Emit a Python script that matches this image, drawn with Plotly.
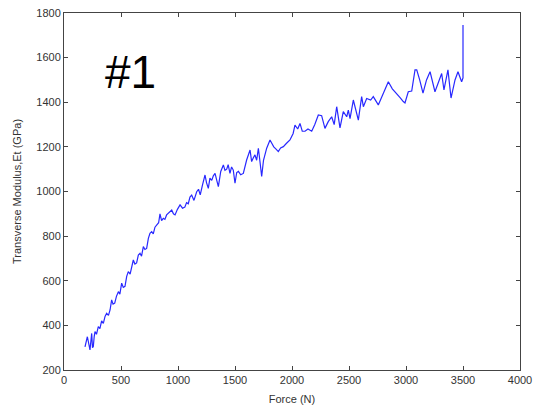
import plotly.graph_objects as go

force = [184, 205, 228, 235, 243, 250, 257, 265, 272, 285, 301, 315, 330, 345, 360,
         374, 390, 404, 418, 430, 445, 460, 477, 490, 506, 520, 535, 550, 564, 580,
         594, 608, 622, 637, 652, 667, 680, 696, 710, 725, 740, 754, 769, 783, 798,
         815, 830, 842, 856, 871, 885, 900, 920, 945, 960, 974, 995, 1018, 1040, 1060,
         1075, 1090, 1105, 1120, 1140, 1164, 1180, 1195, 1215, 1237, 1250, 1266, 1280,
         1296, 1310, 1325, 1340, 1354, 1375, 1398, 1412, 1427, 1440, 1456, 1470, 1485,
         1500, 1515, 1530, 1550, 1573, 1602, 1632, 1646, 1660, 1675, 1690, 1705, 1720,
         1734, 1750, 1778, 1807, 1825, 1840, 1860, 1880, 1900, 1924, 1950, 1982, 2010,
         2026, 2050, 2070, 2090, 2114, 2140, 2173, 2200, 2231, 2260, 2289, 2318, 2348,
         2370, 2392, 2421, 2450, 2480, 2494, 2509, 2538, 2582, 2611, 2626, 2655, 2690,
         2713, 2757, 2800, 2845, 2880, 2918, 2950, 2976, 2991, 3020, 3050, 3079, 3094,
         3120, 3149, 3180, 3211, 3254, 3290, 3313, 3333, 3368, 3395, 3430, 3456, 3488,
         3500, 3500]
modulus = [304, 349, 290, 340, 364, 300, 305, 350, 372, 360, 394, 385, 420, 409, 440,
           454, 445, 469, 514, 495, 500, 530, 551, 540, 589, 570, 575, 620, 641, 630,
           671, 693, 675, 680, 715, 723, 710, 753, 740, 745, 790, 813, 820, 810, 840,
           850, 860, 900, 870, 880, 875, 895, 905, 917, 900, 895, 920, 940, 925, 930,
           950, 945, 975, 984, 960, 999, 1010, 985, 1030, 1074, 1040, 1014, 1060,
           1050, 1070, 1081, 1050, 1022, 1090, 1119, 1095, 1100, 1120, 1081, 1110, 1096,
           1037, 1085, 1090, 1075, 1081, 1141, 1186, 1134, 1150, 1164, 1140, 1194, 1130,
           1067, 1140, 1194, 1231, 1215, 1200, 1190, 1179, 1195, 1201, 1215, 1231, 1260,
           1298, 1280, 1305, 1270, 1270, 1280, 1270, 1300, 1343, 1340, 1283, 1313, 1335,
           1300, 1380, 1285, 1358, 1335, 1365, 1327, 1410, 1320, 1425, 1380, 1417, 1410,
           1425, 1388, 1440, 1492, 1460, 1440, 1420, 1403, 1397, 1447, 1450, 1545, 1545,
           1500, 1441, 1500, 1537, 1447, 1500, 1529, 1455, 1545, 1419, 1500, 1537, 1492,
           1509, 1746]

x_ticks = [0, 500, 1000, 1500, 2000, 2500, 3000, 3500, 4000]
y_ticks = [200, 400, 600, 800, 1000, 1200, 1400, 1600, 1800]

fig = go.Figure()
fig.add_trace(go.Scatter(x=force, y=modulus, mode="lines",
                         line=dict(color="rgb(40,40,255)", width=1.2),
                         showlegend=False))

axis_common = dict(showgrid=False, zeroline=False, showline=True, linecolor="#444",
                   linewidth=1, mirror="ticks", ticks="inside", ticklen=4, automargin=False,
                   tickcolor="#444", tickfont=dict(family="Liberation Sans", size=11, color="#333"))

fig.update_xaxes(range=[0, 4000], tickvals=x_ticks, ticktext=[str(v) for v in x_ticks],
                 title=dict(text="Force (N)", font=dict(family="Liberation Sans", size=11, color="#333"),
                            standoff=10),
                 **axis_common)
fig.update_yaxes(range=[200, 1800], tickvals=y_ticks, ticktext=[str(v) for v in y_ticks],
                 title=dict(text="Transverse Modulus,Et (GPa)",
                            font=dict(family="Liberation Sans", size=11, color="#333"), standoff=12),
                 **axis_common)

fig.add_annotation(x=0.145, y=0.835, xref="paper", yref="paper", text="#1", showarrow=False,
                   xanchor="center", yanchor="middle",
                   font=dict(family="Liberation Sans", size=46, color="black"))

fig.update_layout(width=536, height=412, margin=dict(l=64, r=16, t=13, b=42),
                  paper_bgcolor="white", plot_bgcolor="white")

fig.write_html("out.html")
